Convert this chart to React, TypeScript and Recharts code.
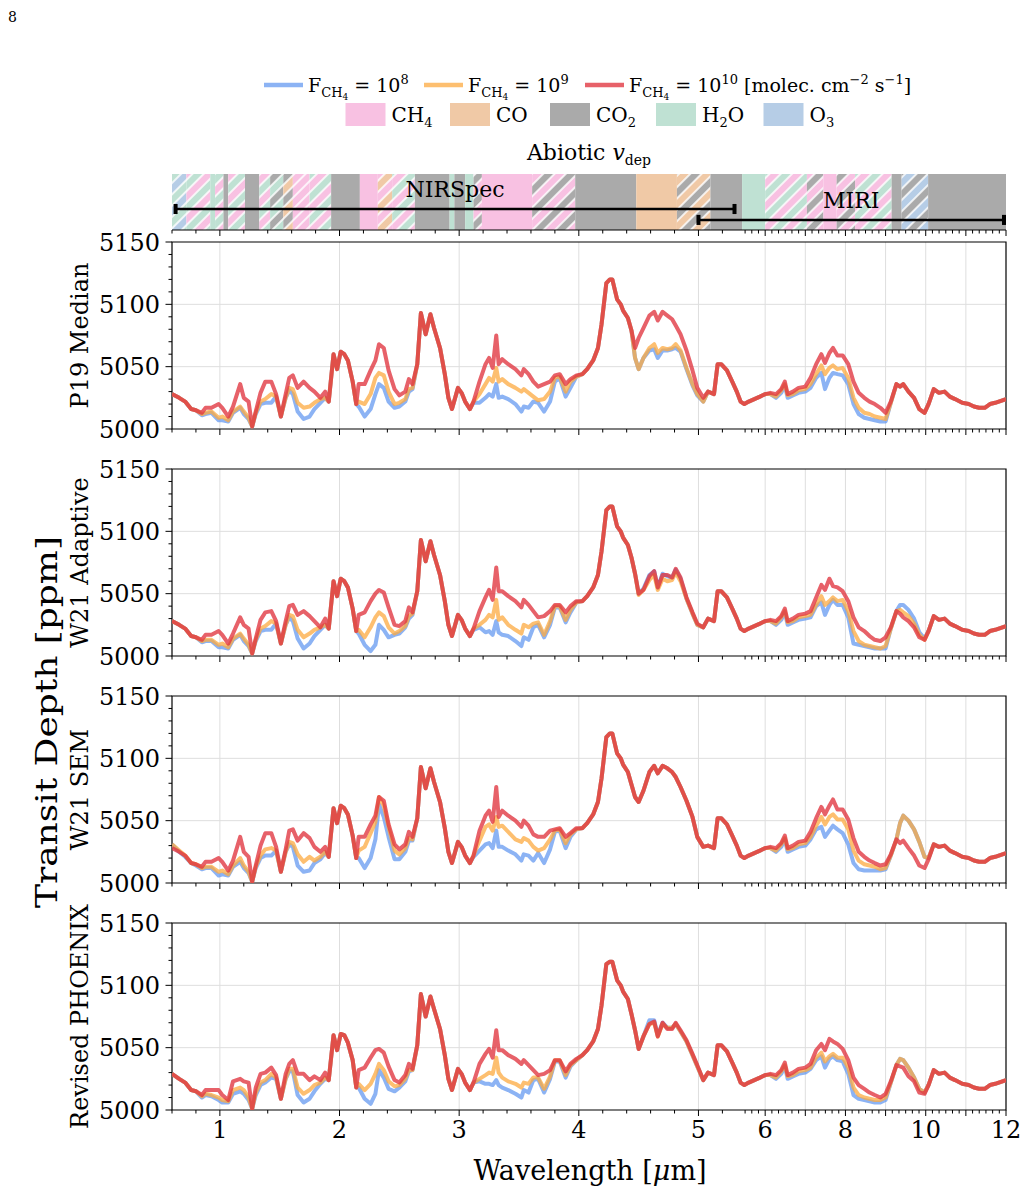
import React from 'react';
import { ComposedChart, Line, XAxis, YAxis, ReferenceLine, ReferenceArea, CartesianGrid } from 'recharts';

const FONT = "'DejaVu Serif', 'Liberation Serif', serif";

// ---------------- data ----------------
const WAVELENGTH_UM = [
  0.6, 0.66, 0.71, 0.76, 0.8, 0.85, 0.88, 0.93, 0.99,
  1.02, 1.07, 1.11, 1.17, 1.2, 1.24, 1.27, 1.3, 1.34, 1.38, 1.43, 1.47, 1.51, 1.55, 1.58, 1.61, 1.65, 1.7, 1.75, 1.79, 1.84, 1.88, 1.91,
  1.95, 1.98, 2.01, 2.04, 2.07, 2.11, 2.14,
  2.16, 2.21, 2.26, 2.3, 2.33, 2.37, 2.41, 2.46, 2.5, 2.55, 2.58, 2.61,
  2.65, 2.68, 2.72, 2.76, 2.79, 2.84, 2.88, 2.91, 2.94, 2.99, 3.02, 3.05, 3.09, 3.12,
  3.17, 3.22, 3.25, 3.28, 3.31, 3.33, 3.36, 3.41, 3.47, 3.52, 3.54, 3.58, 3.62, 3.66, 3.71, 3.76, 3.8, 3.84, 3.89, 3.93, 3.98,
  4.03, 4.07, 4.12, 4.16, 4.19, 4.23, 4.26, 4.28, 4.32, 4.35, 4.37, 4.41, 4.44,
  4.47, 4.5, 4.54, 4.59, 4.63, 4.66, 4.7, 4.74, 4.78, 4.81, 4.85, 4.9, 4.95, 4.99, 5.04,
  5.08, 5.13, 5.16, 5.19, 5.26, 5.33, 5.39, 5.44, 5.49, 5.59, 5.73, 5.87, 6.0,
  6.13, 6.27, 6.4, 6.49, 6.56, 6.69, 6.83, 7.0,
  7.13, 7.27, 7.4, 7.49, 7.6, 7.69, 7.8, 7.93, 8.07, 8.2, 8.33, 8.47, 8.6, 8.73, 8.87, 9.0, 9.13,
  9.27, 9.36, 9.44, 9.57, 9.71, 9.84, 9.97, 10.07, 10.2,
  10.33, 10.47, 10.6, 10.73, 10.91, 11.07, 11.2, 11.33, 11.47, 11.6, 11.73, 12.0,
];

// P19 Median
const P19_F1E10 = [
  5028, 5025, 5022, 5016, 5015, 5013, 5017, 5017, 5020,
  5017, 5010, 5018, 5036, 5025, 5022, 5002, 5014, 5029, 5038, 5038, 5028, 5010, 5028, 5041, 5043, 5033, 5038, 5033, 5030, 5025, 5030, 5022,
  5060, 5048, 5062, 5060, 5055, 5038, 5020,
  5036, 5036, 5047, 5055, 5068, 5065, 5047, 5032, 5027, 5030, 5040, 5036,
  5052, 5093, 5076, 5092, 5081, 5065, 5044, 5025, 5016, 5033, 5029, 5022, 5016, 5022,
  5038, 5052, 5057, 5049, 5075, 5052, 5056, 5052, 5048, 5043, 5048, 5044, 5038, 5034, 5036, 5038, 5043, 5044, 5036, 5040, 5043,
  5044, 5048, 5055, 5065, 5084, 5117, 5120, 5120, 5104, 5100, 5095, 5089, 5079,
  5065, 5073, 5081, 5091, 5094, 5087, 5094, 5091, 5088, 5083, 5076, 5063, 5047, 5033, 5025,
  5030, 5028, 5052, 5052, 5047, 5038, 5030, 5022, 5020, 5022, 5024, 5026, 5028,
  5029, 5028, 5032, 5038, 5028, 5030, 5033, 5034,
  5041, 5052, 5060, 5053, 5061, 5065, 5059, 5059, 5052, 5038, 5029, 5025, 5022, 5020, 5017, 5013, 5022,
  5036, 5034, 5036, 5030, 5025, 5016, 5013, 5020, 5032,
  5029, 5030, 5026, 5024, 5021, 5020, 5018, 5017, 5017, 5020, 5021, 5024,
];
const P19_F1E9 = [
  5028, 5025, 5022, 5016, 5015, 5012, 5013, 5014, 5009,
  5010, 5007, 5014, 5018, 5014, 5009, 5002, 5013, 5022, 5024, 5028, 5026, 5010, 5025, 5033, 5032, 5021, 5017, 5018, 5021, 5024, 5025, 5022,
  5060, 5048, 5062, 5060, 5055, 5038, 5020,
  5022, 5020, 5028, 5041, 5045, 5043, 5030, 5020, 5021, 5024, 5032, 5033,
  5052, 5093, 5076, 5092, 5081, 5065, 5044, 5025, 5016, 5033, 5029, 5022, 5016, 5022,
  5028, 5036, 5041, 5038, 5049, 5038, 5040, 5036, 5033, 5030, 5032, 5029, 5026, 5023, 5024, 5030, 5041, 5042, 5030, 5038, 5042,
  5044, 5048, 5055, 5065, 5084, 5117, 5120, 5120, 5104, 5100, 5095, 5089, 5079,
  5057, 5048, 5057, 5065, 5068, 5061, 5065, 5064, 5065, 5068, 5063, 5049, 5036, 5028, 5022,
  5030, 5028, 5052, 5052, 5047, 5038, 5030, 5022, 5020, 5022, 5024, 5026, 5028,
  5028, 5026, 5031, 5036, 5027, 5028, 5031, 5032,
  5036, 5044, 5051, 5044, 5049, 5051, 5048, 5049, 5041, 5025, 5017, 5013, 5012, 5010, 5009, 5008, 5021,
  5036, 5034, 5036, 5030, 5025, 5016, 5013, 5020, 5032,
  5029, 5030, 5026, 5024, 5021, 5020, 5018, 5017, 5017, 5020, 5021, 5024,
];
const P19_F1E8 = [
  5028, 5025, 5022, 5016, 5015, 5011, 5012, 5013, 5007,
  5007, 5006, 5013, 5017, 5012, 5008, 5002, 5012, 5020, 5021, 5021, 5026, 5010, 5025, 5031, 5028, 5014, 5008, 5010, 5016, 5021, 5025, 5022,
  5060, 5048, 5062, 5060, 5055, 5038, 5020,
  5018, 5010, 5016, 5028, 5036, 5033, 5022, 5017, 5018, 5022, 5030, 5032,
  5052, 5093, 5076, 5092, 5081, 5065, 5044, 5025, 5016, 5033, 5029, 5022, 5016, 5021,
  5021, 5025, 5028, 5026, 5036, 5025, 5026, 5024, 5020, 5014, 5018, 5017, 5022, 5021, 5014, 5022, 5038, 5041, 5026, 5033, 5042,
  5044, 5048, 5055, 5065, 5084, 5117, 5120, 5120, 5104, 5100, 5095, 5089, 5079,
  5057, 5048, 5057, 5063, 5064, 5057, 5063, 5063, 5064, 5065, 5062, 5048, 5035, 5027, 5022,
  5030, 5028, 5052, 5052, 5047, 5038, 5030, 5022, 5020, 5022, 5024, 5026, 5028,
  5028, 5025, 5029, 5035, 5025, 5027, 5029, 5030,
  5033, 5041, 5045, 5032, 5041, 5045, 5044, 5043, 5036, 5020, 5012, 5009, 5008, 5007, 5006, 5006, 5021,
  5036, 5034, 5036, 5030, 5025, 5016, 5013, 5020, 5032,
  5029, 5030, 5026, 5024, 5021, 5020, 5018, 5017, 5017, 5020, 5021, 5024,
];

// W21 Adaptive
const W21A_F1E10 = [
  5028, 5025, 5022, 5016, 5015, 5013, 5017, 5017, 5020,
  5017, 5010, 5018, 5031, 5025, 5022, 5002, 5014, 5029, 5035, 5036, 5028, 5010, 5028, 5040, 5041, 5033, 5036, 5032, 5028, 5023, 5030, 5022,
  5060, 5048, 5062, 5060, 5055, 5038, 5020,
  5033, 5035, 5044, 5050, 5053, 5051, 5039, 5025, 5024, 5028, 5039, 5035,
  5052, 5093, 5076, 5092, 5081, 5065, 5044, 5025, 5016, 5033, 5029, 5022, 5016, 5022,
  5036, 5047, 5053, 5045, 5071, 5052, 5052, 5048, 5044, 5039, 5045, 5041, 5036, 5031, 5032, 5036, 5041, 5041, 5035, 5040, 5044,
  5044, 5048, 5055, 5065, 5084, 5117, 5120, 5120, 5104, 5100, 5095, 5089, 5079,
  5066, 5050, 5053, 5064, 5068, 5055, 5065, 5065, 5063, 5070, 5063, 5047, 5035, 5026, 5023,
  5030, 5028, 5052, 5052, 5047, 5038, 5030, 5022, 5020, 5022, 5024, 5026, 5028,
  5029, 5028, 5032, 5038, 5028, 5030, 5033, 5034,
  5036, 5047, 5057, 5053, 5062, 5056, 5055, 5052, 5044, 5031, 5023, 5020, 5016, 5013, 5012, 5015, 5023,
  5036, 5034, 5031, 5028, 5023, 5015, 5013, 5020, 5032,
  5029, 5030, 5026, 5024, 5021, 5020, 5018, 5017, 5017, 5020, 5021, 5024,
];
const W21A_F1E9 = [
  5028, 5025, 5022, 5016, 5015, 5012, 5013, 5013, 5009,
  5010, 5007, 5014, 5018, 5014, 5009, 5002, 5013, 5022, 5024, 5028, 5026, 5010, 5025, 5033, 5032, 5021, 5015, 5018, 5021, 5023, 5025, 5022,
  5060, 5048, 5062, 5060, 5055, 5038, 5020,
  5021, 5015, 5023, 5031, 5035, 5032, 5023, 5018, 5020, 5024, 5032, 5034,
  5052, 5093, 5076, 5092, 5081, 5065, 5044, 5025, 5016, 5033, 5029, 5022, 5016, 5022,
  5025, 5029, 5033, 5031, 5045, 5029, 5031, 5025, 5021, 5018, 5025, 5023, 5026, 5027, 5017, 5028, 5040, 5040, 5029, 5037, 5043,
  5044, 5048, 5055, 5065, 5084, 5117, 5120, 5120, 5104, 5100, 5095, 5089, 5079,
  5066, 5049, 5053, 5061, 5065, 5053, 5062, 5060, 5061, 5067, 5060, 5046, 5034, 5025, 5023,
  5030, 5028, 5052, 5052, 5047, 5038, 5030, 5022, 5020, 5022, 5024, 5026, 5028,
  5028, 5026, 5031, 5036, 5027, 5028, 5031, 5032,
  5033, 5041, 5048, 5041, 5044, 5047, 5044, 5045, 5036, 5020, 5012, 5009, 5008, 5007, 5006, 5008, 5022,
  5036, 5037, 5035, 5032, 5026, 5017, 5013, 5020, 5032,
  5029, 5030, 5026, 5024, 5021, 5020, 5018, 5017, 5017, 5020, 5021, 5024,
];
const W21A_F1E8 = [
  5028, 5025, 5022, 5016, 5015, 5011, 5012, 5012, 5007,
  5007, 5006, 5013, 5017, 5012, 5008, 5002, 5012, 5020, 5021, 5021, 5026, 5010, 5025, 5031, 5028, 5014, 5006, 5010, 5016, 5021, 5025, 5022,
  5060, 5048, 5062, 5060, 5055, 5038, 5020,
  5018, 5009, 5004, 5009, 5025, 5021, 5015, 5017, 5018, 5023, 5030, 5033,
  5052, 5093, 5076, 5092, 5081, 5065, 5044, 5025, 5016, 5033, 5029, 5022, 5016, 5021,
  5023, 5019, 5020, 5017, 5028, 5019, 5017, 5016, 5012, 5008, 5015, 5013, 5023, 5025, 5015, 5025, 5039, 5039, 5027, 5035, 5043,
  5044, 5048, 5055, 5065, 5084, 5117, 5120, 5120, 5104, 5100, 5095, 5089, 5079,
  5066, 5050, 5054, 5065, 5068, 5055, 5066, 5064, 5063, 5069, 5062, 5046, 5034, 5025, 5023,
  5030, 5028, 5052, 5052, 5047, 5038, 5030, 5022, 5020, 5022, 5024, 5026, 5028,
  5028, 5025, 5029, 5035, 5025, 5027, 5029, 5030,
  5031, 5040, 5043, 5033, 5041, 5045, 5041, 5041, 5031, 5010, 5009, 5008, 5007, 5006, 5006, 5006, 5022,
  5036, 5041, 5041, 5037, 5030, 5019, 5014, 5020, 5032,
  5029, 5030, 5026, 5024, 5021, 5020, 5018, 5017, 5017, 5020, 5021, 5024,
];

// W21 SEM
const W21S_F1E10 = [
  5028, 5025, 5022, 5016, 5015, 5013, 5017, 5017, 5020,
  5017, 5010, 5018, 5037, 5025, 5021, 5001, 5014, 5030, 5040, 5040, 5029, 5009, 5027, 5042, 5043, 5034, 5040, 5036, 5029, 5025, 5029, 5021,
  5060, 5048, 5062, 5060, 5055, 5038, 5020,
  5037, 5037, 5047, 5054, 5069, 5066, 5047, 5031, 5027, 5031, 5041, 5037,
  5052, 5093, 5076, 5092, 5081, 5065, 5044, 5025, 5016, 5033, 5029, 5022, 5016, 5022,
  5042, 5054, 5058, 5049, 5077, 5053, 5058, 5054, 5050, 5045, 5050, 5046, 5039, 5037, 5037, 5042, 5043, 5044, 5037, 5040, 5044,
  5044, 5048, 5055, 5065, 5084, 5117, 5120, 5120, 5104, 5100, 5095, 5089, 5079,
  5069, 5065, 5074, 5089, 5094, 5088, 5094, 5092, 5089, 5085, 5077, 5066, 5053, 5037, 5029,
  5030, 5028, 5052, 5052, 5047, 5038, 5030, 5022, 5020, 5022, 5024, 5026, 5028,
  5029, 5028, 5032, 5038, 5028, 5030, 5033, 5034,
  5041, 5052, 5061, 5055, 5062, 5067, 5059, 5059, 5051, 5036, 5025, 5021, 5018, 5016, 5014, 5015, 5023,
  5035, 5032, 5034, 5028, 5022, 5014, 5012, 5019, 5031,
  5029, 5030, 5026, 5024, 5021, 5020, 5018, 5017, 5017, 5020, 5021, 5024,
];
const W21S_F1E9 = [
  5031, 5026, 5022, 5016, 5015, 5012, 5013, 5013, 5009,
  5010, 5007, 5014, 5020, 5014, 5009, 5001, 5013, 5022, 5027, 5028, 5026, 5009, 5025, 5033, 5032, 5023, 5017, 5021, 5018, 5021, 5025, 5021,
  5060, 5048, 5062, 5060, 5055, 5038, 5020,
  5026, 5029, 5040, 5049, 5069, 5062, 5045, 5026, 5023, 5028, 5036, 5035,
  5052, 5093, 5076, 5092, 5081, 5065, 5044, 5025, 5016, 5033, 5029, 5022, 5016, 5022,
  5034, 5045, 5047, 5042, 5053, 5045, 5046, 5041, 5035, 5033, 5036, 5034, 5029, 5026, 5028, 5035, 5042, 5043, 5032, 5039, 5043,
  5044, 5048, 5055, 5065, 5084, 5117, 5120, 5120, 5104, 5100, 5095, 5089, 5079,
  5069, 5065, 5074, 5089, 5094, 5088, 5094, 5092, 5089, 5085, 5077, 5066, 5053, 5037, 5029,
  5030, 5028, 5052, 5052, 5047, 5038, 5030, 5022, 5020, 5022, 5024, 5026, 5028,
  5028, 5026, 5031, 5036, 5027, 5028, 5031, 5032,
  5037, 5046, 5053, 5047, 5053, 5055, 5051, 5051, 5043, 5026, 5018, 5015, 5014, 5013, 5011, 5012, 5022,
  5035, 5048, 5054, 5050, 5043, 5033, 5021, 5020, 5031,
  5029, 5030, 5026, 5024, 5021, 5020, 5018, 5017, 5017, 5020, 5021, 5024,
];
const W21S_F1E8 = [
  5031, 5025, 5021, 5016, 5014, 5011, 5012, 5012, 5006,
  5007, 5006, 5013, 5017, 5012, 5008, 5001, 5012, 5020, 5022, 5022, 5026, 5009, 5025, 5031, 5029, 5014, 5009, 5010, 5016, 5019, 5024, 5021,
  5060, 5048, 5062, 5060, 5055, 5038, 5020,
  5020, 5012, 5020, 5035, 5063, 5053, 5037, 5019, 5019, 5025, 5034, 5034,
  5052, 5093, 5076, 5092, 5081, 5065, 5044, 5025, 5016, 5033, 5029, 5022, 5016, 5021,
  5026, 5031, 5032, 5028, 5042, 5029, 5029, 5026, 5023, 5018, 5023, 5022, 5018, 5024, 5016, 5027, 5041, 5042, 5028, 5037, 5043,
  5044, 5048, 5055, 5065, 5084, 5117, 5120, 5120, 5104, 5100, 5095, 5089, 5079,
  5069, 5065, 5074, 5089, 5094, 5088, 5094, 5092, 5089, 5085, 5077, 5066, 5053, 5037, 5029,
  5030, 5028, 5052, 5052, 5047, 5038, 5030, 5022, 5020, 5022, 5024, 5026, 5028,
  5028, 5025, 5029, 5035, 5025, 5027, 5029, 5030,
  5035, 5043, 5045, 5037, 5042, 5046, 5043, 5040, 5031, 5016, 5011, 5010, 5010, 5010, 5010, 5011, 5022,
  5035, 5048, 5054, 5050, 5043, 5033, 5021, 5020, 5031,
  5029, 5030, 5026, 5024, 5021, 5020, 5018, 5017, 5017, 5020, 5021, 5024,
];

// Revised PHOENIX
const PHX_F1E10 = [
  5029, 5025, 5022, 5016, 5015, 5012, 5016, 5016, 5016,
  5012, 5008, 5023, 5025, 5023, 5022, 5001, 5018, 5029, 5030, 5034, 5028, 5009, 5029, 5037, 5040, 5029, 5029, 5024, 5027, 5024, 5030, 5024,
  5060, 5048, 5061, 5060, 5054, 5040, 5018,
  5032, 5034, 5042, 5048, 5049, 5046, 5035, 5024, 5022, 5028, 5037, 5033,
  5052, 5093, 5075, 5091, 5081, 5065, 5044, 5025, 5016, 5033, 5029, 5022, 5016, 5022,
  5037, 5045, 5049, 5042, 5064, 5048, 5048, 5044, 5041, 5037, 5040, 5036, 5032, 5028, 5029, 5032, 5040, 5040, 5031, 5037, 5041,
  5044, 5048, 5055, 5065, 5084, 5117, 5119, 5119, 5104, 5100, 5095, 5089, 5077,
  5064, 5049, 5059, 5069, 5071, 5059, 5070, 5065, 5065, 5070, 5064, 5056, 5045, 5036, 5024,
  5030, 5028, 5052, 5052, 5047, 5038, 5030, 5022, 5020, 5022, 5024, 5026, 5028,
  5029, 5028, 5032, 5038, 5028, 5030, 5033, 5034,
  5037, 5048, 5053, 5048, 5057, 5055, 5053, 5049, 5040, 5026, 5020, 5017, 5014, 5012, 5010, 5013, 5023,
  5036, 5035, 5034, 5027, 5023, 5014, 5013, 5020, 5032,
  5029, 5030, 5026, 5024, 5021, 5020, 5018, 5017, 5017, 5020, 5021, 5024,
];
const PHX_F1E9 = [
  5029, 5025, 5022, 5016, 5015, 5011, 5013, 5012, 5010,
  5008, 5007, 5016, 5018, 5016, 5010, 5001, 5014, 5022, 5024, 5029, 5026, 5009, 5025, 5033, 5033, 5018, 5013, 5016, 5020, 5022, 5026, 5024,
  5060, 5048, 5061, 5060, 5054, 5040, 5018,
  5021, 5016, 5021, 5029, 5037, 5032, 5023, 5019, 5020, 5025, 5032, 5032,
  5052, 5093, 5075, 5091, 5081, 5065, 5044, 5025, 5016, 5033, 5029, 5022, 5016, 5022,
  5025, 5028, 5030, 5029, 5042, 5030, 5026, 5023, 5021, 5018, 5022, 5021, 5026, 5026, 5017, 5027, 5040, 5040, 5028, 5036, 5040,
  5044, 5048, 5055, 5065, 5084, 5117, 5119, 5119, 5104, 5100, 5095, 5089, 5077,
  5064, 5049, 5059, 5069, 5070, 5059, 5069, 5066, 5066, 5069, 5063, 5055, 5044, 5035, 5024,
  5030, 5028, 5052, 5052, 5047, 5038, 5030, 5022, 5020, 5022, 5024, 5026, 5028,
  5028, 5026, 5031, 5036, 5027, 5028, 5031, 5032,
  5034, 5042, 5046, 5039, 5043, 5045, 5042, 5042, 5034, 5018, 5012, 5010, 5009, 5008, 5008, 5010, 5022,
  5036, 5041, 5040, 5034, 5026, 5017, 5014, 5020, 5032,
  5029, 5030, 5026, 5024, 5021, 5020, 5018, 5017, 5017, 5020, 5021, 5024,
];
const PHX_F1E8 = [
  5029, 5025, 5022, 5016, 5015, 5010, 5012, 5011, 5008,
  5006, 5006, 5013, 5015, 5013, 5008, 5001, 5012, 5020, 5022, 5026, 5025, 5009, 5025, 5031, 5031, 5012, 5006, 5009, 5015, 5021, 5025, 5024,
  5060, 5048, 5061, 5060, 5054, 5040, 5018,
  5018, 5009, 5005, 5013, 5032, 5026, 5017, 5015, 5018, 5023, 5031, 5032,
  5052, 5093, 5075, 5091, 5081, 5065, 5044, 5025, 5016, 5033, 5029, 5022, 5016, 5022,
  5023, 5021, 5021, 5020, 5024, 5020, 5018, 5016, 5013, 5010, 5016, 5014, 5024, 5025, 5014, 5025, 5039, 5039, 5026, 5035, 5040,
  5044, 5048, 5055, 5065, 5084, 5117, 5119, 5119, 5104, 5100, 5095, 5089, 5077,
  5064, 5049, 5059, 5072, 5072, 5060, 5070, 5066, 5066, 5069, 5063, 5055, 5044, 5035, 5024,
  5030, 5028, 5052, 5052, 5047, 5038, 5030, 5022, 5020, 5022, 5024, 5026, 5028,
  5028, 5025, 5029, 5035, 5025, 5027, 5029, 5030,
  5033, 5040, 5043, 5034, 5041, 5043, 5040, 5039, 5029, 5012, 5009, 5008, 5007, 5006, 5006, 5008, 5022,
  5036, 5041, 5040, 5034, 5026, 5017, 5014, 5020, 5032,
  5029, 5030, 5026, 5024, 5021, 5020, 5018, 5017, 5017, 5020, 5021, 5024,
];

const PANEL_LABELS = ['P19 Median', 'W21 Adaptive', 'W21 SEM', 'Revised PHOENIX'];

// absorber band: [start µm, end µm, species, hatch-partner species]
const BAND_SPANS: [number, number, string, string | null][] = [
  [0.6, 0.72, 'O3', 'H2O'], [0.72, 0.92, 'CH4', 'H2O'], [0.92, 0.96, 'H2O', null], [0.96, 1.03, 'CH4', 'H2O'],
  [1.03, 1.07, 'CO2', null], [1.07, 1.21, 'CH4', 'H2O'], [1.21, 1.33, 'CO2', null], [1.33, 1.42, 'H2O', 'CH4'],
  [1.42, 1.53, 'CO2', 'H2O'], [1.53, 1.61, 'CO', 'CO2'], [1.61, 1.75, 'CH4', 'CH4'], [1.75, 1.93, 'CH4', 'H2O'],
  [1.93, 2.17, 'CO2', null], [2.17, 2.32, 'CH4', null], [2.32, 2.44, 'CO', 'CH4'], [2.44, 2.63, 'H2O', 'CH4'],
  [2.63, 2.92, 'CO2', null], [2.92, 2.96, 'H2O', null], [2.96, 3.05, 'CO2', null], [3.05, 3.12, 'H2O', null],
  [3.12, 3.19, 'CO2', 'CH4'], [3.19, 3.61, 'CH4', null], [3.61, 3.97, 'CO2', 'CH4'], [3.97, 4.48, 'CO2', null],
  [4.48, 4.82, 'CO', null], [4.82, 5.1, 'CO', 'CO2'], [5.1, 5.46, 'CO2', null], [5.46, 6.0, 'H2O', null],
  [6.0, 7.04, 'CH4', 'H2O'], [7.04, 7.45, 'CO2', 'CH4'], [7.45, 7.78, 'CH4', null], [7.78, 8.24, 'CO2', 'CH4'],
  [8.24, 9.15, 'CH4', 'H2O'], [9.15, 9.4, 'CO2', null], [9.4, 10.06, 'O3', 'CO2'], [10.06, 12.0, 'CO2', null],
];

const INSTRUMENT_NAMES = ['NIRSpec', 'MIRI'];
const INSTRUMENT_START_UM = [0.63, 5.0];
const INSTRUMENT_END_UM = [5.36, 11.95];

const X_MAJOR_UM = [1, 2, 3, 4, 5, 6, 7, 8, 9, 10, 11, 12];
const X_LABELED_UM = [1, 2, 3, 4, 5, 6, 8, 10, 12];
const X_TICK_LABELS = ['1', '2', '3', '4', '5', '6', '8', '10', '12'];
const X_MINOR_UM = [
  0.6, 0.8, 1.2, 1.4, 1.6, 1.8, 2.2, 2.4, 2.6, 2.8, 3.2, 3.4, 3.6, 3.8, 4.2, 4.4, 4.6, 4.8, 5.2, 5.5, 5.667, 5.833,
  6.167, 6.333, 6.5, 6.667, 6.833, 7.167, 7.333, 7.5, 7.667, 7.833, 8.167, 8.333, 8.5, 8.667, 8.833,
  9.167, 9.333, 9.5, 9.667, 9.833, 10.167, 10.333, 10.5, 10.667, 10.833, 11.167, 11.333, 11.5, 11.667, 11.833,
];
const Y_TICKS = [5000, 5010, 5020, 5030, 5040, 5050, 5060, 5070, 5080, 5090, 5100, 5110, 5120, 5130, 5140, 5150];
const Y_LABELED = [5000, 5050, 5100, 5150];

// ---------------- styling / scale ----------------
const SPECIES_COLOR: Record<string, string> = {
  CH4: '#f8c1e2', CO: '#f0c9a6', CO2: '#aaaaaa', H2O: '#bfe1d3', O3: '#b6cde6',
};
const SERIES = [
  { key: 'b', color: '#5b93f0', opacity: 0.7 },
  { key: 'o', color: '#fca940', opacity: 0.75 },
  { key: 'r', color: '#e0353f', opacity: 0.78 },
];

// piecewise wavelength axis (linear to 5.2 µm, compressed beyond)
const PX_PER_UM = 119.6;
function toAxis(w: number): number {
  if (w <= 5.2) return w;
  if (w <= 5.5) return 5.2 + (w - 5.2) * (75.67 / PX_PER_UM);
  return 5.2 + 0.3 * (75.67 / PX_PER_UM) + (w - 5.5) * (40.12 / PX_PER_UM);
}
const AX_MIN = toAxis(0.6);
const AX_MAX = toAxis(12);
const PLOT_LEFT = 172;
const PLOT_RIGHT = 1006;
const xPixel = (w: number) => PLOT_LEFT + ((toAxis(w) - AX_MIN) / (AX_MAX - AX_MIN)) * (PLOT_RIGHT - PLOT_LEFT);

const X_MAJOR_AX = X_MAJOR_UM.map(toAxis);
const X_LABELED_AX = X_LABELED_UM.map(toAxis);
const X_TICKS = [...X_MINOR_UM, ...X_MAJOR_UM].map(toAxis).sort((a, b) => a - b);

const PANEL_TOPS = [242, 469, 696, 923];
const PLOT_H = 187;
const TOP_PAD = 18;
const BAND_TOP = 174;
const BAND_H = 56;
const INSTRUMENT_LEVEL = [0.375, 0.18];

function renderXTick(props: any, showLabel: boolean) {
  const { x, y, payload } = props;
  const v = payload.value as number;
  const major = X_MAJOR_AX.some((m) => Math.abs(m - v) < 1e-6);
  const li = X_LABELED_AX.findIndex((m) => Math.abs(m - v) < 1e-6);
  return (
    <g>
      <line x1={x} x2={x} y1={y} y2={y + (major ? 6 : 3.5)} stroke="#000" strokeWidth={1} />
      {showLabel && li >= 0 ? (
        <text x={x} y={y + 28} textAnchor="middle" fontSize={24} fontFamily={FONT} fill="#000">
          {X_TICK_LABELS[li]}
        </text>
      ) : null}
    </g>
  );
}

function renderYTick(props: any) {
  const { x, y, payload } = props;
  const v = payload.value as number;
  const major = Y_LABELED.includes(v);
  const len = major ? 6.5 : 3.5;
  return (
    <g>
      <line x1={x - len} x2={x} y1={y} y2={y} stroke="#000" strokeWidth={1} />
      {major ? (
        <text x={x - 12} y={y} dy="0.36em" textAnchor="end" fontSize={24} fontFamily={FONT} fill="#000">
          {v}
        </text>
      ) : null}
    </g>
  );
}

function hatchId(a: string, b: string) {
  return `hatch-${a}-${b}`;
}

function HatchDefs() {
  const pairs: [string, string][] = [];
  BAND_SPANS.forEach(([, , a, b]) => {
    if (b && !pairs.some(([p, q]) => p === a && q === b)) pairs.push([a, b]);
  });
  return (
    <svg width={1} height={1} style={{ position: 'absolute', left: 0, top: 0 }}>
      <defs>
        {pairs.map(([a, b]) => (
          <pattern key={hatchId(a, b)} id={hatchId(a, b)} patternUnits="userSpaceOnUse" width={16} height={16} patternTransform="rotate(45)">
            <rect x={0} y={0} width={8} height={16} fill={SPECIES_COLOR[a]} />
            <rect x={8} y={0} width={8} height={16} fill={SPECIES_COLOR[b]} />
            <rect x={0} y={0} width={0.8} height={16} fill="#fff" />
            <rect x={7.2} y={0} width={1.6} height={16} fill="#fff" />
            <rect x={15.2} y={0} width={0.8} height={16} fill="#fff" />
          </pattern>
        ))}
      </defs>
    </svg>
  );
}

function AbsorberBand() {
  const rows = [{ x: AX_MIN, y: 0 }, { x: AX_MAX, y: 1 }];
  return (
    <div style={{ position: 'absolute', left: 0, top: BAND_TOP, width: 1027, height: BAND_H + 20 }}>
      <ComposedChart width={1027} height={BAND_H + 20} data={rows} margin={{ top: 0, right: 21, bottom: 0, left: PLOT_LEFT }}>
        <XAxis
          dataKey="x" type="number" domain={[AX_MIN, AX_MAX]} allowDataOverflow ticks={X_TICKS} interval={0}
          tickLine={false} axisLine={{ stroke: '#000', strokeWidth: 1 }} tickSize={0} tickMargin={0} height={20}
          tick={(p: any) => renderXTick(p, false)}
        />
        <YAxis hide type="number" domain={[0, 1]} allowDataOverflow />
        <Line dataKey="y" stroke="none" strokeOpacity={0} dot={false} activeDot={false} isAnimationActive={false} />
        {BAND_SPANS.map(([s, e, a, b]) => (
          <ReferenceArea
            key={`${s}-${e}`} x1={toAxis(s)} x2={toAxis(e)} y1={0} y2={1} ifOverflow="visible"
            fill={b ? `url(#${hatchId(a, b)})` : SPECIES_COLOR[a]} fillOpacity={1} stroke="none"
          />
        ))}
        {INSTRUMENT_NAMES.map((n, i) => (
          <ReferenceLine
            key={n + 'bar'} ifOverflow="visible"
            segment={[{ x: toAxis(INSTRUMENT_START_UM[i]), y: INSTRUMENT_LEVEL[i] }, { x: toAxis(INSTRUMENT_END_UM[i]), y: INSTRUMENT_LEVEL[i] }]}
            stroke="#000" strokeWidth={2.5}
          />
        ))}
        {INSTRUMENT_NAMES.map((n, i) =>
          [INSTRUMENT_START_UM[i], INSTRUMENT_END_UM[i]].map((w, j) => (
            <ReferenceLine
              key={n + 'cap' + j} ifOverflow="visible"
              segment={[{ x: toAxis(w), y: INSTRUMENT_LEVEL[i] - 0.09 }, { x: toAxis(w), y: INSTRUMENT_LEVEL[i] + 0.09 }]}
              stroke="#000" strokeWidth={4}
            />
          ))
        )}
      </ComposedChart>
    </div>
  );
}

function SpectrumPanel({ top, f8, f9, f10, showXLabels }: { top: number; f8: number[]; f9: number[]; f10: number[]; showXLabels: boolean }) {
  const data = WAVELENGTH_UM.map((w, i) => ({ x: toAxis(w), b: f8[i], o: f9[i], r: f10[i] }));
  const H = TOP_PAD + PLOT_H + 50;
  return (
    <div style={{ position: 'absolute', left: 0, top: top - TOP_PAD, width: 1027, height: H }}>
      <ComposedChart width={1027} height={H} data={data} margin={{ top: TOP_PAD, right: 21, bottom: 0, left: 0 }}>
        <CartesianGrid
          verticalValues={X_MAJOR_AX.slice(0, -1)}
          horizontalValues={[5050, 5100]}
          stroke="#dedede" strokeWidth={1}
        />
        <XAxis
          dataKey="x" type="number" domain={[AX_MIN, AX_MAX]} allowDataOverflow ticks={X_TICKS} interval={0}
          tickLine={false} axisLine={false} tickSize={0} tickMargin={0} height={50}
          tick={(p: any) => renderXTick(p, showXLabels)}
        />
        <YAxis
          type="number" domain={[5000, 5150]} allowDataOverflow ticks={Y_TICKS} interval={0}
          tickLine={false} axisLine={false} tickSize={0} tickMargin={0} width={PLOT_LEFT}
          tick={renderYTick}
        />
        {SERIES.map((s) => (
          <Line
            key={s.key} type="linear" dataKey={s.key} stroke={s.color} strokeOpacity={s.opacity} strokeWidth={4}
            strokeLinejoin="round" dot={false} activeDot={false} isAnimationActive={false}
          />
        ))}
        <ReferenceArea x1={AX_MIN} x2={AX_MAX} y1={5000} y2={5150} fill="none" fillOpacity={0} stroke="#000" strokeWidth={1.2} />
      </ComposedChart>
    </div>
  );
}

function Annotations() {
  const legendLines = [
    { x: 264, exp: '8' },
    { x: 424, exp: '9' },
    { x: 585, exp: '10' },
  ];
  const patches = [
    { sp: 'CH4', x: 345.5, main: 'CH', s: '4', post: '' },
    { sp: 'CO', x: 450, main: 'CO', s: '', post: '' },
    { sp: 'CO2', x: 550, main: 'CO', s: '2', post: '' },
    { sp: 'H2O', x: 656, main: 'H', s: '2', post: 'O' },
    { sp: 'O3', x: 763.5, main: 'O', s: '3', post: '' },
  ];
  const bandBottom = BAND_TOP + BAND_H;
  return (
    <svg width={1027} height={1195} style={{ position: 'absolute', left: 0, top: 0, pointerEvents: 'none' }} fontFamily={FONT}>
      <text x={8} y={22} fontSize={14} fill="#000">8</text>

      {/* legend row 1 */}
      {legendLines.map((l, i) => (
        <g key={l.exp}>
          <line x1={l.x} x2={l.x + 39} y1={85} y2={85} stroke={SERIES[i].color} strokeOpacity={SERIES[i].opacity} strokeWidth={4.5} />
          <text x={l.x + 44} y={92} fontSize={19} fill="#000" style={{ whiteSpace: 'pre' }}>
            F<tspan fontSize={13} dy={5}>CH</tspan>
            <tspan fontSize={9} dy={3}>4</tspan>
            <tspan fontSize={19} dy={-8}>{' = 10'}</tspan>
            <tspan fontSize={13} dy={-8}>{l.exp}</tspan>
            {i === 2 ? (
              <>
                <tspan fontSize={19} dy={8}>{' [molec. cm'}</tspan>
                <tspan fontSize={13} dy={-8}>{'\u22122'}</tspan>
                <tspan fontSize={19} dy={8}>{' s'}</tspan>
                <tspan fontSize={13} dy={-8}>{'\u22121'}</tspan>
                <tspan fontSize={19} dy={8}>]</tspan>
              </>
            ) : null}
          </text>
        </g>
      ))}

      {/* legend row 2 */}
      {patches.map((p) => (
        <g key={p.sp}>
          <rect x={p.x} y={103} width={40} height={23} fill={SPECIES_COLOR[p.sp]} />
          <text x={p.x + 46} y={122} fontSize={20} fill="#000">
            {p.main}
            {p.s ? <tspan fontSize={13} dy={5}>{p.s}</tspan> : null}
            {p.post ? <tspan fontSize={20} dy={-5}>{p.post}</tspan> : null}
          </text>
        </g>
      ))}

      {/* band title */}
      <text x={589} y={160} textAnchor="middle" fontSize={22} fill="#000" style={{ whiteSpace: 'pre' }}>
        {'Abiotic '}
        <tspan fontStyle="italic">v</tspan>
        <tspan fontSize={14} dy={5}>dep</tspan>
      </text>

      {/* instrument labels */}
      {INSTRUMENT_NAMES.map((n, i) => (
        <text
          key={n}
          x={(xPixel(INSTRUMENT_START_UM[i]) + xPixel(INSTRUMENT_END_UM[i])) / 2}
          y={bandBottom - INSTRUMENT_LEVEL[i] * BAND_H - 12}
          textAnchor="middle" fontSize={22} fill="#000"
        >
          {n}
        </text>
      ))}

      {/* panel labels */}
      {PANEL_LABELS.map((l, i) => (
        <text key={l} transform={`translate(88, ${PANEL_TOPS[i] + PLOT_H / 2}) rotate(-90)`} textAnchor="middle" fontSize={24} fill="#000">
          {l}
        </text>
      ))}

      {/* common y label */}
      <text transform="translate(57, 722) rotate(-90)" textAnchor="middle" fontSize={29} fill="#000" textLength={372} lengthAdjust="spacingAndGlyphs">
        Transit Depth [ppm]
      </text>

      {/* x label */}
      <text x={590} y={1180} textAnchor="middle" fontSize={27} fill="#000">
        Wavelength [<tspan fontStyle="italic">{'\u03bc'}</tspan>m]
      </text>
    </svg>
  );
}

const PANEL_SERIES = [
  { f8: P19_F1E8, f9: P19_F1E9, f10: P19_F1E10 },
  { f8: W21A_F1E8, f9: W21A_F1E9, f10: W21A_F1E10 },
  { f8: W21S_F1E8, f9: W21S_F1E9, f10: W21S_F1E10 },
  { f8: PHX_F1E8, f9: PHX_F1E9, f10: PHX_F1E10 },
];

export default function App() {
  return (
    <div style={{ position: 'absolute', left: 0, top: 0, width: 1027, height: 1195, background: '#fff', fontFamily: FONT }}>
      <HatchDefs />
      <AbsorberBand />
      {PANEL_SERIES.map((s, i) => (
        <SpectrumPanel key={PANEL_LABELS[i]} top={PANEL_TOPS[i]} f8={s.f8} f9={s.f9} f10={s.f10} showXLabels={i === 3} />
      ))}
      <Annotations />
    </div>
  );
}
